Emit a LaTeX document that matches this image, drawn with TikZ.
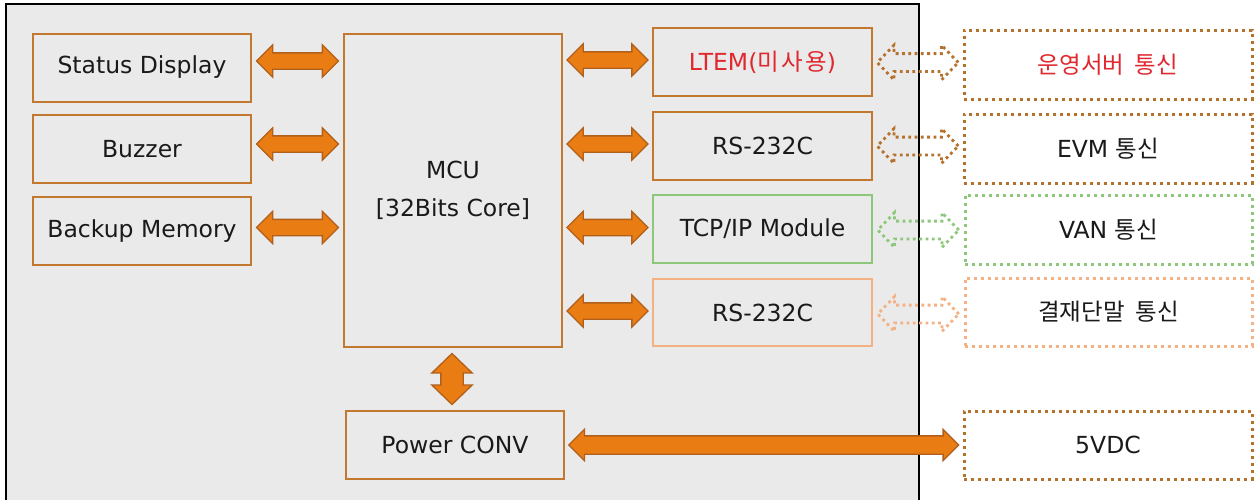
\documentclass[tikz,border=0pt]{standalone}
\usepackage{fontspec}
\setmainfont{DejaVu Sans}
\newfontfamily\kr[Scale=1.0]{Noto Sans CJK KR}
\usetikzlibrary{shapes.arrows,calc}
\definecolor{bg}{HTML}{EAEAEA}
\definecolor{boxc}{RGB}{194,120,46}
\definecolor{arrf}{HTML}{E97C12}
\definecolor{arrd}{HTML}{B0601C}
\definecolor{grn}{HTML}{8CC77A}
\definecolor{lor}{HTML}{F4B183}
\definecolor{dbr}{HTML}{B5722C}
\definecolor{redt}{HTML}{E0282E}
\definecolor{txt}{HTML}{1A1A1A}
\begin{document}
\begin{tikzpicture}[x=1pt,y=-1pt,
  every node/.style={font=\fontsize{23.5}{27}\selectfont, text=txt},
  box/.style={draw=boxc, line width=2pt, fill=bg, minimum width=218pt, minimum height=68pt, inner sep=0pt},
  extbox/.style={line width=3pt, dash pattern=on 3pt off 4pt, fill=white, minimum width=288pt, minimum height=69pt, inner sep=0pt},
  blk/.style={double arrow, fill=arrf, draw=arrd, line width=1.3pt, inner xsep=0pt, inner ysep=7.5pt, double arrow head extend=8pt, double arrow tip angle=90},
  dblk/.style={double arrow, draw=#1, line width=2.8pt, dash pattern=on 2.8pt off 3.5pt, inner xsep=0pt, inner ysep=7.5pt, double arrow head extend=8.5pt, double arrow tip angle=92, minimum height=81pt}
]
\useasboundingbox (0,0) rectangle (1258,499);
% outer panel
\fill[bg] (6,4) rectangle (919,505);
\draw[black, line width=2pt] (6,505) -- (6,4) -- (919,4) -- (919,505);

% internal boxes
\node[box] (sd) at (142,67.5) {Status Display};
\node[box] (bz) at (142,149) {Buzzer};
\node[box] (bm) at (142,231) {Backup Memory};
\node[box, minimum height=313pt, align=center, font=\fontsize{23.5}{38}\selectfont] (mcu) at (453,190.5) {MCU\\{[32Bits Core]}};
\node[box, minimum width=219pt, text=redt] (lte) at (762.5,62) {LTEM({\kr 미\hspace{0.1em}사\hspace{0.1em}용})};
\node[box, minimum width=219pt] (rs1) at (762.5,146) {RS-232C};
\node[box, draw=grn, minimum width=219pt] (tcp) at (762.5,229) {TCP/IP Module};
\node[box, draw=lor, minimum width=219pt, minimum height=67pt] (rs2) at (762.5,312.5) {RS-232C};
\node[box] (pwr) at (455,445) {Power CONV};

% external boxes
\node[extbox, draw=dbr, text=redt] (e1) at (1108,64.5) {\kr 운영서버\hspace{0.45em}통신};
\node[extbox, draw=dbr] (e2) at (1108,148.5) {EVM {\kr 통신}};
\node[extbox, draw=grn, minimum width=287pt] (e3) at (1108.5,229.5) {VAN {\kr 통신}};
\node[extbox, draw=lor, minimum width=287pt, minimum height=68pt] (e4) at (1108.5,312) {\kr 결재단말\hspace{0.45em}통신};
\node[extbox, draw=dbr, minimum height=68pt] (e5) at (1108,445) {5VDC};

% block arrows left
\node[blk, minimum height=82pt] (a1) at ($(sd.east)!.5!(sd.east -| mcu.west)+(0,-6.5)$) {};
\node[blk, minimum height=82pt] (a2) at ($(bz.east)!.5!(bz.east -| mcu.west)+(0,-5)$) {};
\node[blk, minimum height=82pt] (a3) at ($(bm.east)!.5!(bm.east -| mcu.west)+(0,-3.5)$) {};
% block arrows right
\node[blk, minimum height=81pt] (a4) at ($(lte.west -| mcu.east)!.5!(lte.west)+(0,-2)$) {};
\node[blk, minimum height=81pt] (a5) at ($(rs1.west -| mcu.east)!.5!(rs1.west)+(0,-2)$) {};
\node[blk, minimum height=81pt] (a6) at ($(tcp.west -| mcu.east)!.5!(tcp.west)+(0,-1.5)$) {};
\node[blk, minimum height=81pt] (a7) at ($(rs2.west -| mcu.east)!.5!(rs2.west)+(0,-1.5)$) {};
% vertical
\node[blk, rotate=90, minimum height=51pt, inner ysep=10.5pt, double arrow head extend=9pt, double arrow tip angle=92] (a8) at ($(mcu.south)!.5!(pwr.north)+(-2,0)$) {};
% power
\node[blk, minimum height=390pt, inner ysep=8.5pt, double arrow head extend=6.5pt, double arrow tip angle=90] (a9) at ($(pwr.east)!.5!(e5.west)$) {};

% dotted arrows
\node[dblk=dbr] (d1) at ($(lte.east)!.5!(e1.west |- lte.east)+(0,0.5)$) {};
\node[dblk=dbr] (d2) at ($(rs1.east)!.5!(e2.west |- rs1.east)$) {};
\node[dblk=grn] (d3) at ($(tcp.east)!.5!(e3.west |- tcp.east)+(0,1)$) {};
\node[dblk=lor] (d4) at ($(rs2.east)!.5!(e4.west |- rs2.east)+(0,1.5)$) {};
\end{tikzpicture}
\end{document}
